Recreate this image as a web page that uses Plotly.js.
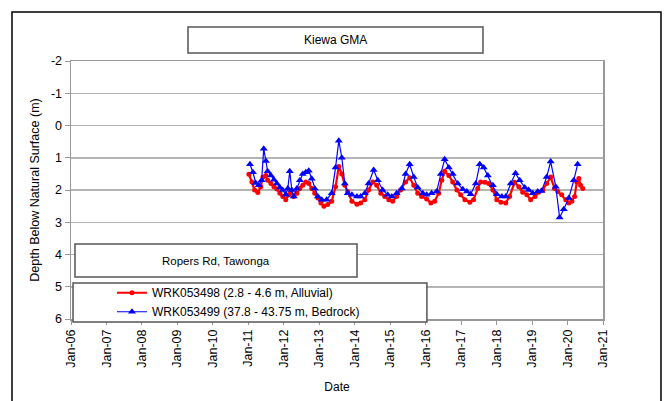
<!DOCTYPE html>
<html>
<head>
<meta charset="utf-8">
<script src="https://cdn.plot.ly/plotly-3.0.1.min.js"></script>
<style>html,body{margin:0;padding:0;background:#fff;}#chart{width:664px;height:401px;}</style>
</head>
<body>
<div id="chart"></div>
<script>
// Series 1: WRK053498 (red)
var redDates = ['2011-01-07','2011-02-07','2011-03-07','2011-04-09','2011-05-09','2011-06-01','2011-07-01','2011-07-19','2011-08-22','2011-09-22','2011-10-22','2011-11-22','2011-12-22','2012-01-22','2012-02-22','2012-03-13','2012-04-13','2012-05-15','2012-06-15','2012-07-15','2012-08-15','2012-09-15','2012-10-15','2012-11-15','2012-12-18','2013-01-18','2013-02-18','2013-03-28','2013-05-09','2013-06-18','2013-07-21','2013-08-21','2013-09-21','2013-10-21','2013-12-03','2014-01-24','2014-03-03','2014-04-15','2014-05-24','2014-07-06','2014-08-15','2014-09-27','2014-11-06','2014-12-18','2015-01-27','2015-03-09','2015-04-18','2015-06-09','2015-07-21','2015-09-01','2015-10-12','2015-11-21','2016-01-12','2016-02-24','2016-04-03','2016-05-15','2016-06-15','2016-07-15','2016-08-27','2016-10-06','2016-11-18','2016-12-27','2017-02-09','2017-04-01','2017-05-09','2017-06-21','2017-07-21','2017-09-03','2017-10-12','2017-11-24','2018-01-03','2018-02-15','2018-04-06','2018-05-15','2018-07-06','2018-08-18','2018-09-27','2018-11-09','2018-12-18','2019-02-01','2019-03-09','2019-04-21','2019-06-01','2019-07-12','2019-08-21','2019-09-24','2019-11-03','2019-12-15','2020-01-15','2020-02-15','2020-03-15','2020-04-06','2020-04-27','2020-05-15','2020-06-06'];
var redDepth = [1.51,1.75,2.0,2.08,1.9,1.6,1.55,1.7,1.8,1.9,1.97,2.1,2.2,2.3,2.15,2.05,2.2,2.1,1.95,1.85,1.75,1.8,1.95,2.1,2.25,2.4,2.5,2.45,2.35,1.9,1.27,1.5,1.85,2.05,2.35,2.44,2.4,2.3,2.0,1.75,1.85,2.1,2.2,2.3,2.35,2.2,2.0,1.75,1.62,1.85,2.1,2.2,2.28,2.4,2.35,2.1,1.7,1.42,1.55,1.75,2.0,2.15,2.3,2.38,2.3,1.95,1.75,1.76,1.8,2.0,2.3,2.38,2.4,2.2,1.76,1.9,2.07,2.15,2.3,2.2,2.07,2.0,1.8,1.6,1.95,2.05,2.15,2.3,2.4,2.35,2.2,1.75,1.64,1.85,1.95];

// Series 2: WRK053499 (blue)
var blueDates = ['2011-01-18','2011-02-18','2011-03-18','2011-04-18','2011-05-18','2011-06-09','2011-07-01','2011-07-19','2011-08-22','2011-09-22','2011-10-22','2011-11-22','2011-12-22','2012-01-22','2012-02-12','2012-03-03','2012-03-24','2012-04-13','2012-05-15','2012-06-15','2012-07-15','2012-08-15','2012-09-15','2012-10-15','2012-11-15','2012-12-18','2013-01-27','2013-03-18','2013-05-09','2013-06-18','2013-07-21','2013-08-21','2013-09-21','2013-10-21','2013-12-03','2014-01-24','2014-03-03','2014-04-15','2014-05-24','2014-07-15','2014-08-27','2014-10-15','2014-12-06','2015-01-18','2015-03-09','2015-05-01','2015-06-09','2015-07-21','2015-09-01','2015-10-12','2015-12-03','2016-01-12','2016-03-03','2016-04-24','2016-06-06','2016-07-15','2016-08-27','2016-10-06','2016-11-27','2017-01-18','2017-03-01','2017-04-09','2017-06-01','2017-07-12','2017-08-21','2017-10-03','2017-11-24','2018-01-03','2018-02-24','2018-04-06','2018-05-27','2018-07-15','2018-08-27','2018-10-18','2018-11-27','2019-01-09','2019-03-01','2019-04-09','2019-06-01','2019-07-12','2019-09-03','2019-10-12','2019-11-24','2020-01-15','2020-03-06','2020-04-15'];
var blueDepth = [1.2,1.45,1.78,1.85,1.7,0.72,1.1,1.42,1.55,1.68,1.8,1.92,2.0,2.15,1.95,1.42,2.0,2.2,1.95,1.7,1.5,1.45,1.4,1.65,1.95,2.2,2.3,2.3,2.1,1.3,0.47,1.0,1.8,2.1,2.15,2.2,2.2,2.1,1.8,1.38,1.7,2.0,2.15,2.2,2.1,1.95,1.5,1.2,1.6,1.92,2.1,2.15,2.1,2.05,1.5,1.05,1.3,1.5,1.8,1.98,2.05,2.13,1.8,1.2,1.3,1.55,1.85,2.13,2.2,2.2,1.8,1.48,1.7,1.92,2.0,2.1,2.05,2.03,1.6,1.12,1.9,2.85,2.6,2.25,1.7,1.2];

var seriesNames = ['WRK053498 (2.8 - 4.6 m, Alluvial)', 'WRK053499 (37.8 - 43.75 m, Bedrock)'];
var chartTitle = 'Kiewa GMA';
var siteLabel = 'Ropers Rd, Tawonga';
var xTitle = 'Date';
var yTitle = 'Depth Below Natural Surface (m)';
var yTickVals = [-2, -1, 0, 1, 2, 3, 4, 5, 6];
var yTickText = ['-2', '-1', '0', '1', '2', '3', '4', '5', '6'];

var FONT = '"Liberation Sans", Arial, sans-serif';

var traces = [
  {x: redDates, y: redDepth, name: seriesNames[0], type: 'scatter', mode: 'lines+markers',
   line: {color: '#ff0000', width: 2.2}, marker: {color: '#ff0000', symbol: 'circle', size: 5}},
  {x: blueDates, y: blueDepth, name: seriesNames[1], type: 'scatter', mode: 'lines+markers',
   line: {color: '#0000ff', width: 1.2}, marker: {color: '#0000ff', symbol: 'triangle-up', size: 7}}
];

var layout = {
  width: 664, height: 401,
  margin: {l: 71, r: 61, t: 61, b: 82},
  paper_bgcolor: '#ffffff', plot_bgcolor: '#ffffff',
  font: {family: FONT, size: 12, color: '#000'},
  showlegend: true,
  legend: {x: 0.077, y: 0.158, xanchor: 'left', yanchor: 'top', bgcolor: 'rgba(0,0,0,0)',
           font: {family: FONT, size: 12, color: '#000'}, tracegroupgap: 0, itemwidth: 30},
  xaxis: {
    type: 'date', range: ['2006-01-01', '2021-01-01'], tick0: '2006-01-01', dtick: 'M12',
    tickformat: '%b-%y', tickangle: -90, ticks: 'outside', ticklen: 4, tickcolor: '#999',
    showgrid: false, showline: true, linecolor: '#999', linewidth: 1.5, mirror: true,
    zeroline: false, tickfont: {family: FONT, size: 12.5},
    title: {text: xTitle, font: {family: FONT, size: 12}, standoff: 16}
  },
  yaxis: {
    range: [6, -2], tickmode: 'array', tickvals: yTickVals, ticktext: yTickText,
    ticks: 'outside', ticklen: 5, tickcolor: '#999',
    showgrid: true, gridcolor: '#b4b4b4', gridwidth: 1.5, showline: true, linecolor: '#999',
    linewidth: 1.5, mirror: true, zeroline: false, tickfont: {family: FONT, size: 12.5},
    title: {text: yTitle, font: {family: FONT, size: 12.5}, standoff: 8}
  },
  shapes: [
    {type: 'rect', xref: 'paper', yref: 'paper', x0: -0.1109, x1: 1.109, y0: -0.34, y1: 1.19,
     line: {color: '#000', width: 1.5}, fillcolor: 'rgba(0,0,0,0)', layer: 'above'},
    {type: 'rect', xref: 'paper', yref: 'paper', x0: 0.2199, x1: 0.7744, y0: 1.031, y1: 1.1318,
     line: {color: '#555', width: 1.5}, fillcolor: '#ffffff', layer: 'above'},
    {type: 'rect', xref: 'paper', yref: 'paper', x0: 0.0075, x1: 0.5376, y0: 0.1628, y1: 0.2907,
     line: {color: '#555', width: 1.5}, fillcolor: '#ffffff', layer: 'above'},
    {type: 'rect', xref: 'paper', yref: 'paper', x0: 0.0038, x1: 0.669, y0: -0.0116, y1: 0.1395,
     line: {color: '#555', width: 1.5}, fillcolor: '#ffffff', layer: 'above'}
  ],
  annotations: [
    {text: chartTitle, xref: 'paper', yref: 'paper', x: 0.4971, y: 1.0814, xanchor: 'center', yanchor: 'middle',
     showarrow: false, font: {family: FONT, size: 12, color: '#000'}},
    {text: siteLabel, xref: 'paper', yref: 'paper', x: 0.2726, y: 0.2267, xanchor: 'center', yanchor: 'middle',
     showarrow: false, font: {family: FONT, size: 11.5, color: '#000'}}
  ]
};

Plotly.newPlot('chart', traces, layout, {displayModeBar: false, staticPlot: true});
</script>
</body>
</html>
